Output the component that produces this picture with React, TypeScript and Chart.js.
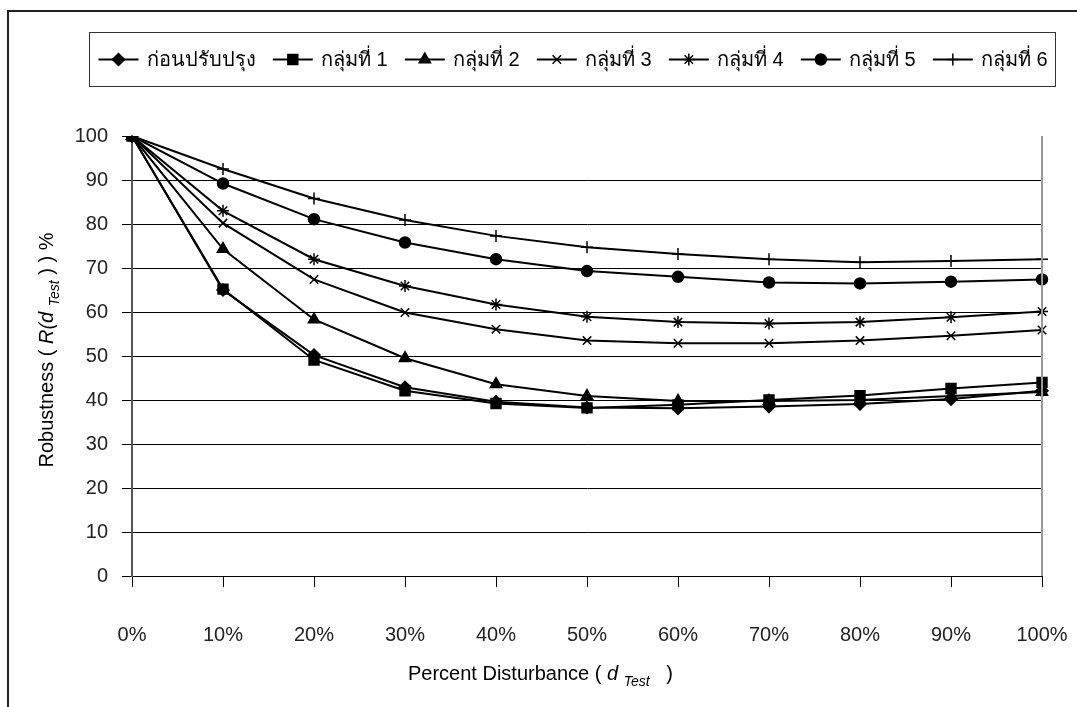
import React, { useEffect, useRef } from "react";
import { Chart, registerables } from "chart.js";
import { drawPoint } from "chart.js/helpers";

Chart.register(...registerables);

// ---------- data ----------
const xLabels = ["0%", "10%", "20%", "30%", "40%", "50%", "60%", "70%", "80%", "90%", "100%"];
const seriesNames = ["ก่อนปรับปรุง", "กลุ่มที่ 1", "กลุ่มที่ 2", "กลุ่มที่ 3", "กลุ่มที่ 4", "กลุ่มที่ 5", "กลุ่มที่ 6"];
const beforeImprove = [100, 65.0, 50.2, 42.9, 39.6, 38.3, 38.1, 38.5, 39.1, 40.2, 42.1];
const group1 = [100, 65.2, 49.1, 42.1, 39.2, 38.2, 38.9, 40.0, 41.0, 42.6, 44.0];
const group2 = [100, 74.3, 58.3, 49.5, 43.6, 40.9, 39.8, 39.8, 40.0, 40.9, 41.8];
const group3 = [100, 80.2, 67.4, 59.9, 56.1, 53.5, 52.9, 52.9, 53.5, 54.6, 55.9];
const group4 = [100, 83.0, 72.0, 65.9, 61.7, 58.9, 57.7, 57.4, 57.7, 58.8, 60.1];
const group5 = [100, 89.2, 81.1, 75.8, 72.0, 69.3, 68.0, 66.7, 66.5, 66.9, 67.4];
const group6 = [100, 92.5, 85.8, 80.9, 77.3, 74.7, 73.2, 72.0, 71.3, 71.6, 72.0];
const seriesValues = [beforeImprove, group1, group2, group3, group4, group5, group6];
const yMin = 0;
const yMax = 100;
const yStep = 10;

// ---------- styles ----------
const pointStyles = ["rectRot", "rect", "triangle", "crossRot", "star", "circle", "cross"];
const pointRadii = [6, 7, 6.5, 6, 6, 5.5, 6];
const FONT = "'Liberation Sans', Arial, sans-serif";
const THAI_FONT = "'Liberation Sans', 'Noto Sans', 'DejaVu Sans', sans-serif";

type Seg = { t: string; italic?: boolean; sub?: boolean };

function drawRich(ctx: CanvasRenderingContext2D, segs: Seg[], x: number, y: number, size: number, centered: boolean) {
  const fontFor = (s: Seg) => `${s.italic ? "italic " : ""}${s.sub ? Math.round(size * 0.7) : size}px ${FONT}`;
  let total = 0;
  for (const s of segs) {
    ctx.font = fontFor(s);
    total += ctx.measureText(s.t).width;
  }
  let cx = centered ? x - total / 2 : x;
  ctx.textBaseline = "alphabetic";
  ctx.textAlign = "left";
  for (const s of segs) {
    ctx.font = fontFor(s);
    ctx.fillText(s.t, cx, y + (s.sub ? size * 0.28 : 0));
    cx += ctx.measureText(s.t).width;
  }
}

const decorPlugin = {
  id: "decor",
  beforeDraw(chart: any) {
    const ctx = chart.ctx as CanvasRenderingContext2D;
    ctx.save();
    ctx.fillStyle = "#fff";
    ctx.fillRect(0, 0, chart.width, chart.height);
    // outer frame
    ctx.strokeStyle = "#222";
    ctx.lineWidth = 2;
    ctx.strokeRect(8, 11, chart.width + 20, chart.height + 20);
    ctx.restore();
  },
  afterDraw(chart: any) {
    const ctx = chart.ctx as CanvasRenderingContext2D;
    const area = chart.chartArea;
    ctx.save();
    // right border of plot area
    ctx.strokeStyle = "#999";
    ctx.lineWidth = 2;
    ctx.beginPath();
    ctx.moveTo(area.right, area.top);
    ctx.lineTo(area.right, area.bottom);
    ctx.stroke();

    // legend
    const bx = 89.5, by = 32.5, bw = 966, bh = 54;
    ctx.strokeStyle = "#333";
    ctx.lineWidth = 1;
    ctx.strokeRect(bx, by, bw, bh);
    const symW = 40, gap = 8, padL = 9, padR = 8;
    ctx.font = `20px ${THAI_FONT}`;
    const widths = seriesNames.map((n) => ctx.measureText(n).width);
    const sum = widths.reduce((a, w) => a + symW + gap + w, 0);
    const spacing = (bw - padL - padR - sum) / (seriesNames.length - 1);
    let x = bx + padL;
    const cy = by + bh / 2;
    seriesNames.forEach((name, i) => {
      ctx.strokeStyle = "#000";
      ctx.fillStyle = "#000";
      ctx.lineWidth = 2;
      ctx.beginPath();
      ctx.moveTo(x, cy);
      ctx.lineTo(x + symW, cy);
      ctx.stroke();
      ctx.lineWidth = 1.5;
      drawPoint(ctx, { pointStyle: pointStyles[i], radius: pointRadii[i], rotation: 0, borderWidth: 1.5 } as any, x + symW / 2, cy);
      ctx.fillStyle = "#000";
      ctx.font = `20px ${THAI_FONT}`;
      ctx.textAlign = "left";
      ctx.textBaseline = "middle";
      ctx.fillText(name, x + symW + gap, cy + 1);
      x += symW + gap + widths[i] + spacing;
    });

    // axis titles
    ctx.fillStyle = "#000";
    drawRich(
      ctx,
      [{ t: "Percent Disturbance ( " }, { t: "d", italic: true }, { t: " " }, { t: "Test", italic: true, sub: true }, { t: "   )" }],
      408,
      680,
      20,
      false
    );
    ctx.save();
    ctx.translate(53, 350);
    ctx.rotate(-Math.PI / 2);
    drawRich(
      ctx,
      [{ t: "Robustness ( " }, { t: "R(d", italic: true }, { t: " " }, { t: "Test", italic: true, sub: true }, { t: " ) ) %" }],
      0,
      0,
      20,
      true
    );
    ctx.restore();
    ctx.restore();
  },
};

export default function App() {
  const canvasRef = useRef<HTMLCanvasElement | null>(null);

  useEffect(() => {
    if (!canvasRef.current) return;
    const chart = new Chart(canvasRef.current, {
      type: "line",
      data: {
        labels: xLabels,
        datasets: seriesValues.map((vals, i) => ({
          label: seriesNames[i],
          data: vals,
          borderColor: "#000",
          backgroundColor: "#000",
          borderWidth: 2,
          pointStyle: pointStyles[i] as any,
          pointRadius: pointRadii[i],
          pointHoverRadius: pointRadii[i],
          pointBackgroundColor: "#000",
          pointBorderColor: "#000",
          pointBorderWidth: 1.5,
          tension: 0,
          fill: false,
        })),
      },
      options: {
        animation: false,
        responsive: false,
        devicePixelRatio: 1,
        layout: { padding: { left: 0, right: 35, top: 136, bottom: 0 } },
        plugins: {
          legend: { display: false },
          tooltip: { enabled: false },
          title: { display: false },
        },
        scales: {
          x: {
            type: "category",
            offset: false,
            grid: { drawOnChartArea: false, drawTicks: true, tickLength: 11, color: "#000", lineWidth: 1 },
            border: { display: true, color: "#000", width: 1 },
            ticks: { font: { size: 20, family: FONT }, color: "#222", padding: 36, maxRotation: 0, autoSkip: false },
            afterFit: (s: any) => {
              s.height = 131;
              s.paddingLeft = 0;
              s.paddingRight = 0;
            },
          },
          y: {
            min: yMin,
            max: yMax,
            ticks: { stepSize: yStep, font: { size: 20, family: FONT }, color: "#222", padding: 14 },
            grid: {
              color: (c: any) => (c.tick && c.tick.value === yMax ? "rgba(0,0,0,0)" : "#000"),
              tickColor: "#000",
              lineWidth: 1,
              tickLength: 10,
            },
            border: { display: true, color: "#555", width: 2 },
            afterFit: (s: any) => {
              s.width = 132;
              s.paddingTop = 0;
              s.paddingBottom = 0;
            },
          },
        },
      },
      plugins: [decorPlugin],
    });
    return () => chart.destroy();
  }, []);

  return (
    <div style={{ position: "absolute", left: 0, top: 0, width: 1077, height: 707, overflow: "hidden", background: "#fff" }}>
      <canvas ref={canvasRef} width={1077} height={707} style={{ display: "block" }} />
    </div>
  );
}
